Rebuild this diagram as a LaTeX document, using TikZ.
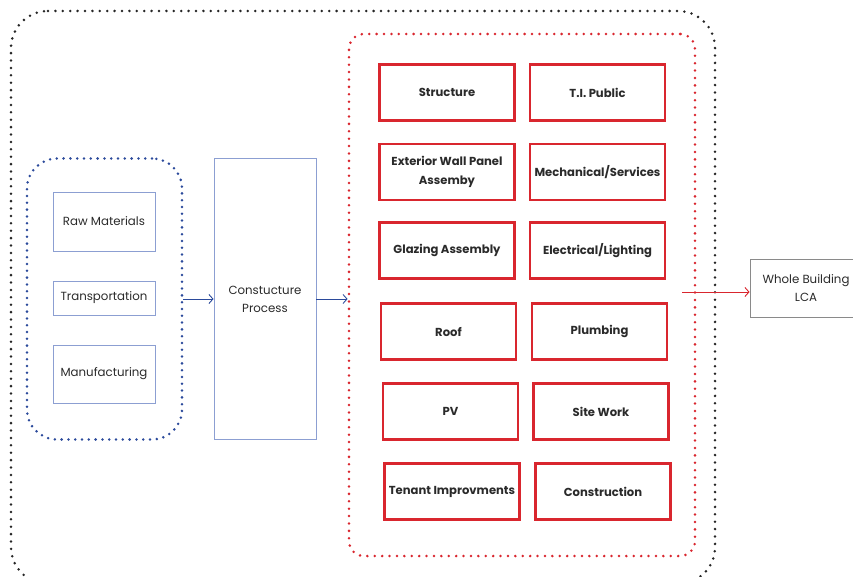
\documentclass[tikz,border=0pt]{standalone}
\usepackage{fontspec}
\setmainfont{Poppins}
\usetikzlibrary{arrows.meta}
\definecolor{redb}{HTML}{D9262E}
\definecolor{blueb}{HTML}{8C9FD2}
\definecolor{bluedot}{HTML}{2B4A9B}
\definecolor{txt}{HTML}{2A2A2A}
\definecolor{grayb}{HTML}{8A8A8A}
\begin{document}
\begin{tikzpicture}[x=1pt,y=-1pt,
  dots/.style={dash pattern=on 0pt off 7.4pt, line cap=round, line width=2.8pt},
  redbox/.style={draw=redb, line width=2.5pt, minimum width=135pt, minimum height=56pt,
    font=\fontsize{11.6}{18.5}\selectfont\bfseries, text=txt, align=center, inner sep=0pt},
  bluebox/.style={draw=blueb, line width=0.9pt, minimum width=102pt,
    font=\fontsize{11.8}{18}\selectfont, text=txt, align=center, inner sep=0pt},
  blarrow/.style={draw=bluedot, line width=0.9pt, -{Straight Barb[length=4pt,width=9pt]}},
  rdarrow/.style={draw=redb, line width=0.9pt, -{Straight Barb[length=4pt,width=9pt]}}
]
\useasboundingbox (0,0) rectangle (853,577);
\clip (0,0) rectangle (853,577);
% outer black dotted frame
\draw[dots, black!85] (11,11) [rounded corners=37pt] -- (715,11) -- (715,584) -- (11,584) -- cycle;
% blue group
\node[draw=bluedot, dots, dash pattern=on 0pt off 6.8pt, rounded corners=30pt, minimum width=155pt, minimum height=281pt, inner sep=0pt] (grp) at (104.5,299) {};
\node[bluebox, minimum height=59pt] (raw) at (104,221.5) {Raw Materials};
\node[bluebox, minimum height=34pt] (trans) at (104,298) {Transportation};
\node[bluebox, minimum height=58pt] (manu) at (104,374) {Manufacturing};
% process
\node[bluebox, minimum height=281pt] (proc) at (265,299) {Constucture\\Process};
% red group
\node[draw=redb, dots, rounded corners=15pt, minimum width=346pt, minimum height=522pt, inner sep=0pt] (rgrp) at (522,295) {};
\node[redbox] (s1) at (447,92.5) {Structure};
\node[redbox] (s2) at (597.5,92.5) {T.I. Public};
\node[redbox] (s3) at (447,172) {Exterior Wall Panel\\Assemby};
\node[redbox] (s4) at (597.5,172) {Mechanical/Services};
\node[redbox] (s5) at (447,250.5) {Glazing Assembly};
\node[redbox] (s6) at (597.5,250.5) {Electrical/Lighting};
\node[redbox] (s7) at (448.5,331.5) {Roof};
\node[redbox] (s8) at (599.5,331.5) {Plumbing};
\node[redbox] (s9) at (450.5,411.5) {PV};
\node[redbox] (s10) at (601,411.5) {Site Work};
\node[redbox] (s11) at (452,491.5) {Tenant Improvments};
\node[redbox] (s12) at (603,491.5) {Construction};
% whole building
\node[draw=grayb, line width=0.9pt, minimum width=112pt, minimum height=58pt, inner sep=0pt,
  font=\fontsize{11.8}{18}\selectfont, text=txt, align=center] (whole) at (806,288) {Whole Building\\LCA};
% arrows
\draw[blarrow] (grp.east) -- (grp.east -| proc.west);
\draw[blarrow] (proc.east) -- (proc.east -| rgrp.west);
\coordinate (rstart) at (682,292);
\draw[rdarrow] (rstart) -- (rstart -| whole.west);
\end{tikzpicture}
\end{document}
